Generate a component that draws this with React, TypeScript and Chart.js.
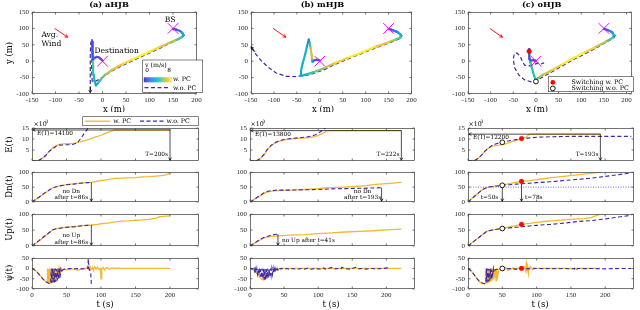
import React, { useEffect, useRef } from 'react';
import { Chart, registerables } from 'chart.js';

Chart.register(...registerables);

/* ================= DATA ================= */
// common markers
const BS: [number, number] = [150, 100];
const DEST: [number, number] = [0, 0];

// ---- (a) aHJB trajectory ----
const aTrajPcX = [150,158,165,170,172,168,155,140,120,100,80,60,40,20,5,-5,-11,-14,-17,-19,-20,-21,-22,-22,-22,-22,-21,-21,-20,-17,-13,-8,-4,0];
const aTrajPcY = [98,96,92,86,79,73,64,55,42,29,16,3,-11,-27,-42,-58,-69,-74,-60,-40,-15,10,30,45,55,60,45,25,5,10,13,12,7,2];
const aTrajPcV = [0.5,1,1.5,2.5,3.5,4.5,5.5,6.5,7.2,7.8,8,7.8,7.2,6.5,5.8,5,4.2,3.5,3.8,4.3,4.8,5.3,5.5,4,2,1,0.8,1,1.2,1,1,1,0.8,0.5];
const aTrajNoX = [150,160,168,174,170,155,140,120,100,80,60,40,20,5,-8,-18,-22,-23,-23,-23,-23,-22,-25,-26,-26,-26,-26];
const aTrajNoY = [100,96,90,80,72,62,52,38,25,12,-1,-15,-30,-44,-56,-64,-60,-30,0,30,55,68,55,20,-20,-60,-92];
// ---- (a) time series ----
const aT_E_pc = [0,5,10,15,20,25,30,35,40,45,50,55,60,65,70,75,80,85,90,95,100,105,110,115,120,200];
const aE_pc = [0,0.05,0.3,1.2,2.6,4.6,5.9,7.0,7.6,7.8,7.9,7.9,8.0,8.2,8.8,9.2,9.6,10.1,10.7,11.2,11.7,12.4,13.0,13.6,14.1,14.1];
const aT_E_no = [0,5,10,15,20,25,30,35,40,45,50,55,60,66,70,75,80,84];
const aE_no = [0,0.05,0.3,1.2,2.5,4.4,5.6,6.7,7.2,7.3,7.4,7.4,7.6,8.4,10.0,12.2,14.4,16.2];
const aT_Dn_pc = [0,10,20,30,35,40,50,60,70,80,86,90,100,110,120,130,140,150,160,170,180,190,195,200];
const aDn_pc = [0,16,32,47,51,54,58,61,63,65,66,68,72,75,79,80,81,82,84,85,87,89,92,96];
const aT_Dn_no = [0,10,20,30,35,40,50,60,70,80,86];
const aDn_no = [0,16,33,48,51,54,58,60,63,65,66];
const aT_Up_pc = [0,10,20,30,35,40,50,60,70,80,86,95,100,110,120,130,140,150,160,170,175,180,185,190,200];
const aUp_pc = [0,16,33,50,54,56,59,61,63,65,66,68,70,72,76,78,79,81,82,84,86,88,92,93,95];
const aT_Up_no = [0,10,20,30,35,40,50,60,70,80,86];
const aUp_no = [0,17,34,51,54,56,59,60,63,65,66];
const aT_Ps_pc = [0,4,8,12,16,20,22,22.5,23.5,24,25,25.5,27,27.5,29,29.5,31,31.5,33,33.5,35,35.5,37,37.5,39,39.5,41,41.5,43,44,47,50,53,55,57,60,63,66,70,74,78,81,83,84,86,88,89,91,93,95,97,99,100,101,103,105,107,110,113,116,120,125,130,200];
const aPs_pc = [0,-8,-20,-35,-52,-64,-68,0,-70,-3,-72,0,-70,-5,-68,0,-65,-2,-60,0,-50,-3,-45,0,-40,-2,-30,0,-10,-5,-3,-8,-2,-6,0,-4,-2,-10,-3,-5,0,8,-8,10,-5,5,-10,8,-3,6,-5,0,-50,0,5,-8,3,4,-5,3,0,2,0,0];
const aT_Ps_no = [0,4,8,12,16,20,24,27,28,28.5,30,30.5,32,32.5,34,34.5,36,36.5,38,38.5,40,40.5,42,43,45,50,55,60,65,70,75,78,81,81.5,82.5,85,86];
const aPs_no = [0,-8,-20,-36,-52,-64,-72,-75,0,-70,0,-72,-2,-68,0,-66,-3,-60,0,-55,0,-45,-5,-20,-5,-2,0,-3,0,-2,0,2,0,48,0,-20,-75];

// ---- (b) mHJB trajectory ----
const bTrajPcX = [150,160,170,177,176,165,150,120,94,60,30,8,-15,-30,-43,-41,-37,-32,-28,-25,-24,-22,-20,-18,-17,-16,-13,-8,-3,0];
const bTrajPcY = [98,94,88,80,72,66,58,43,28,10,-8,-22,-34,-41,-45,-30,-5,20,45,60,66,55,40,20,5,-2,2,4,4,2];
const bTrajPcV = [0.5,1.5,2.5,3.5,4.5,5.5,6.5,7.5,8,7.8,7,6,5,4,3.2,3.4,3.8,4.2,3.5,2,1,3.5,6,7,6,4,1.5,1,1,0.8];
const bTrajNoX = [150,162,172,179,176,160,130,94,60,30,8,-15,-30,-43,-55,-73,-95,-113,-128,-140,-148];
const bTrajNoY = [100,95,88,78,70,60,45,25,6,-12,-27,-38,-43,-46,-47,-46,-36,-18,2,22,40];
// ---- (b) time series ----
const bT_E_pc = [0,5,10,15,20,25,30,35,40,45,50,55,60,70,80,90,95,100,105,110,113,222];
const bE_pc = [0,0.05,0.2,1.0,2.6,4.8,6.6,7.8,8.6,9.1,9.5,9.8,10.0,10.3,10.5,10.8,11.1,11.6,12.3,13.2,13.8,13.8];
const bT_E_no = [0,5,10,15,20,25,30,35,40,45,50,60,70,80,90,95,100,105,110,114];
const bE_no = [0,0.05,0.2,1.1,2.8,5.1,6.9,8.1,8.9,9.4,9.8,10.2,10.5,10.8,11.3,11.8,12.6,13.6,14.9,16.0];
const bT_Dn_pc = [0,5,10,15,20,25,30,40,50,60,80,100,110,130,155,170,184,200,222];
const bDn_pc = [0,7,14,21,28,33,36,38,39,40,42,45,47,49,52,55,59,62,66];
const bT_Dn_no = [0,5,10,15,20,25,30,40,60,80,100,120,140,160,180,193];
const bDn_no = [0,7,15,22,30,35,38,40,40,41,42,44,45,46,47,48];
const bT_Up_pc = [0,10,20,30,41,60,80,100,120,140,160,180,200,222];
const bUp_pc = [0,13,25,30,32,34,36,39,41,44,46,48,51,53];
const bT_Up_no = [0,10,20,30,38,41];
const bUp_no = [0,14,27,33,37,37];
const bT_Ps_pc = [0,3,5,8,10,12,15,18,20,20.5,21,22,25,27,30,33,35,38,40,43,45,60,100,150,222];
const bPs_pc = [0,-3,-8,-18,-25,-33,-45,-53,-56,-25,-55,-52,-42,-36,-28,-20,-15,-9,-6,-2,0,0,0,0,0];
const bT_Ps_no = [0,1,2,3,4,5,6,7,8,9,10,11,12,13,14,15,16,17,18,19,20,21,22,23,24,25,26,27,28,29,30,31,32,33,34,35,36,37,38,39,40,41,42,43,44,45,46,50,55,58,62,65,70,75,80,85,90,95,100,105,108,110,115,120,125,130,133,135,140,145,150,155,160,165,170,175,180,185,190,195,200,205];
const bPs_no = [0,-2,0,-4,-1,-9,0,-14,-1,-21,0,-27,-2,-33,0,-40,-3,-46,0,-52,-2,-55,0,-53,-3,-49,0,-44,-2,-38,0,-33,-1,-28,0,-22,-2,-17,0,-12,-1,-8,0,-5,0,-3,0,-3,0,-5,0,-2,-4,0,-3,2,-4,0,-2,-5,3,-3,0,5,-2,0,-4,6,-1,-3,0,6,-2,0,-3,-1,0,-4,0,-2,3,0];

// ---- (c) oHJB trajectory ----
const cTrajPcX = [150,160,168,172,170,155,130,105,83,55,32,15,5,0,-4,-8,-12,-14,-15,-15,-15,-15,-15,-14,-11,-6,-2,0];
const cTrajPcY = [98,94,88,80,72,60,42,25,10,-12,-30,-42,-51,-57,-45,-25,-5,5,18,28,34,37,25,8,2,3,2,0];
const cTrajPcV = [0.5,1.5,2.5,3.5,4.5,5.5,6.8,7.8,8,7.5,7,6.2,5.5,4.8,4.5,4.3,4.5,5,6,5,2.5,1,0.8,1,1,1,0.8,0.5];
const cTrajNoX = [150,162,170,175,172,155,130,105,83,55,32,15,5,0,-10,-25,-38,-47,-50,-48,-42,-35,-30,-25,-15,-5,5,12,18];
const cTrajNoY = [100,95,88,79,71,58,38,20,5,-17,-35,-48,-56,-62,-63,-57,-42,-20,5,22,25,15,0,-12,-14,-10,-6,-8,-5];
const cSwitchPcXY: [number, number] = [-15, 30];
const cSwitchNoXY: [number, number] = [0, -62];
// ---- (c) time series ----
const cT_E_pc = [0,5,10,15,20,25,30,35,40,45,50,55,60,65,70,75,78,80,85,88,90,193];
const cE_pc = [0,0.05,0.3,1.2,2.8,4.6,5.8,6.7,7.1,7.2,7.4,7.8,8.4,8.9,9.3,9.8,10.2,10.4,10.8,11.8,12.2,12.2];
const cT_E_no = [0,5,10,15,20,25,30,35,40,45,50,55,60,70,78,90,100,120,150,238];
const cE_no = [0,0.05,0.3,1.2,2.8,4.6,5.9,7.0,7.7,8.2,8.5,8.8,9.2,9.7,10.0,10.5,10.8,11.0,11.2,11.2];
const cT_Dn_pc = [0,5,10,15,20,25,30,40,50,60,70,78,90,100,110,122,140,156,175,193];
const cDn_pc = [0,10,20,30,40,46,50,54,57,62,66,69,72,75,78,82,86,90,95,100];
const cT_Dn_no = [0,5,10,15,20,25,30,40,50,60,70,78,90,100,120,140,160,180,200,220,238];
const cDn_no = [0,10,20,30,40,46,50,53,56,58,60,61,63,65,68,72,76,80,86,92,98];
const cT_Up_pc = [0,10,20,28,35,40,50,60,70,78,90,100,110,122,140,160,170,180,193];
const cUp_pc = [0,17,34,47,50,52,56,60,64,68,71,74,77,79,82,85,86,90,100];
const cT_Up_no = [0,10,20,28,35,40,50,60,70,78,90,100,120,140,160,180,200,220,238];
const cUp_no = [0,17,34,47,50,52,55,57,59,61,63,65,68,72,77,80,85,91,97];
const cT_Ps_pc = [0,4,8,12,16,20,24,25,25.5,27,27.5,29,29.5,31,31.5,33,33.5,35,35.5,37,37.5,39,39.5,41,41.5,43,45,48,52,55,58,62,66,70,74,78,82,84,85,86,87,88,89,91,94,96,100,110,193];
const cPs_pc = [0,-10,-25,-45,-62,-72,-76,-75,0,-70,-5,-72,0,-65,-3,-60,0,-55,-2,-50,0,-45,-3,-60,0,-40,-5,0,-8,5,-10,-3,2,-5,3,0,10,-10,25,-5,8,-25,3,10,-5,2,0,0,0];
const cT_Ps_no = [0,4,8,12,16,20,24,26,27,27.5,29,29.5,31,31.5,33,33.5,35,35.5,37,38,40,45,50,55,60,70,80,90,100,110,120,130,140,150,155,157,160,170,180,200,220,238];
const cPs_no = [0,-10,-26,-45,-60,-70,-74,-72,0,-68,0,-65,-3,-60,0,-55,-5,-45,0,-20,-5,-3,0,-2,0,-3,0,-2,0,-1,0,-2,0,-3,0,-10,0,-1,0,-2,0,0];
// switching instants (c)
const cSwT_no = 50, cSwT_pc = 78;
const cSwE = [8.5, 10.2], cSwDn = [56, 69], cSwUp = [55, 68];
const cDnThreshold = 50;

// axis tick values
const TOP_XT = [-150,-100,-50,0,50,100,150,200];
const TOP_YT = [-100,-50,0,50,100,150];
const LOW_XT = [0,50,100,150,200];
const E_YT = [5,10,15];
const P_YT = [0,50,100];
const PS_YT = [-100,-50,0,50];

/* ================= STYLE ================= */
const SERIF = '"DejaVu Serif", serif';
const TICKF = '"Liberation Serif", "DejaVu Serif", serif';
const YEL = 'rgb(246,183,50)';
const NAVY = 'rgb(60,40,168)';
const MAG = 'rgb(255,0,255)';
const AX = '#262626';
const DASH = [4, 2.5];

const PARULA: number[][] = [[62,38,168],[70,80,240],[40,125,235],[18,160,215],[20,185,185],[80,200,135],[170,200,80],[245,190,60],[249,251,20]];
function parula(t: number): string {
  const u = Math.max(0, Math.min(1, t)) * (PARULA.length - 1);
  const i = Math.min(PARULA.length - 2, Math.floor(u));
  const f = u - i;
  const c = PARULA[i].map((v, k) => Math.round(v + (PARULA[i + 1][k] - v) * f));
  return `rgb(${c[0]},${c[1]},${c[2]})`;
}

/* ================= GEOMETRY ================= */
const ML = 32, MR = 6;
const TOPX = [[32, 199], [251, 414], [468, 634]];
const LOWX = [[32, 199], [250, 415], [468, 634]];
const ROWS = [[12, 94], [128, 161], [171, 202], [213, 246], [257, 289]];
const MT = [12, 14, 6, 6, 6];
const MBOT = [18, 8, 8, 8, 21];
const TITLE_CX = [109, 322.5, 541.7];
const XLAB_CX = [114, 323, 537];
const TLAB_CX = [105, 331, 540];

/* ================= HELPERS ================= */
type H = { ctx: CanvasRenderingContext2D; X: (v: number) => number; Y: (v: number) => number; px: (x: number) => number; py: (y: number) => number };
type Spec = { L: number; R: number; T: number; B: number; mt: number; mb: number; xmin: number; xmax: number; xticks: number[]; xlabels: boolean; ymin: number; ymax: number; yticks: number[]; datasets: any[]; draw?: (h: H) => void };

function txt(ctx: CanvasRenderingContext2D, s: string, x: number, y: number, size: number, align: CanvasTextAlign = 'left', bold = false, color = '#000') {
  ctx.save();
  ctx.font = `${bold ? 'bold ' : ''}${size}px ${SERIF}`;
  ctx.fillStyle = color; ctx.textAlign = align; ctx.textBaseline = 'middle';
  ctx.fillText(s, x, y);
  ctx.restore();
}
function vtxt(ctx: CanvasRenderingContext2D, s: string, x: number, y: number, size: number) {
  ctx.save(); ctx.translate(x, y); ctx.rotate(-Math.PI / 2);
  txt(ctx, s, 0, 0, size, 'center');
  ctx.restore();
}
function arrow(ctx: CanvasRenderingContext2D, x1: number, y1: number, x2: number, y2: number, color = '#000', lw = 0.7, hs = 3) {
  const a = Math.atan2(y2 - y1, x2 - x1);
  ctx.save(); ctx.strokeStyle = color; ctx.lineWidth = lw;
  ctx.beginPath(); ctx.moveTo(x1, y1); ctx.lineTo(x2, y2);
  ctx.moveTo(x2 - hs * Math.cos(a - 0.5), y2 - hs * Math.sin(a - 0.5));
  ctx.lineTo(x2, y2);
  ctx.lineTo(x2 - hs * Math.cos(a + 0.5), y2 - hs * Math.sin(a + 0.5));
  ctx.stroke(); ctx.restore();
}
function seg(ctx: CanvasRenderingContext2D, x1: number, y1: number, x2: number, y2: number, color: string, lw: number, dash: number[] = []) {
  ctx.save(); ctx.strokeStyle = color; ctx.lineWidth = lw; ctx.setLineDash(dash);
  ctx.beginPath(); ctx.moveTo(x1, y1); ctx.lineTo(x2, y2); ctx.stroke(); ctx.restore();
}
function box(ctx: CanvasRenderingContext2D, x: number, y: number, w: number, h: number) {
  ctx.save(); ctx.fillStyle = '#fff'; ctx.fillRect(x, y, w, h);
  ctx.strokeStyle = '#333'; ctx.lineWidth = 0.6; ctx.strokeRect(x, y, w, h); ctx.restore();
}
function dot(ctx: CanvasRenderingContext2D, x: number, y: number, open: boolean) {
  ctx.save(); ctx.beginPath(); ctx.arc(x, y, 2.4, 0, Math.PI * 2);
  if (open) { ctx.fillStyle = '#fff'; ctx.fill(); ctx.strokeStyle = '#000'; ctx.lineWidth = 0.9; ctx.stroke(); }
  else { ctx.fillStyle = '#ff0000'; ctx.fill(); }
  ctx.restore();
}

const pts = (xs: number[], ys: number[]) => xs.map((x, i) => ({ x, y: ys[i] }));
const solid = (xs: number[], ys: number[]) => ({ data: pts(xs, ys), showLine: true, borderColor: YEL, borderWidth: 1.3, pointRadius: 0, tension: 0 });
const dashed = (xs: number[], ys: number[], w = 1.1) => ({ data: pts(xs, ys), showLine: true, borderColor: NAVY, borderWidth: w, borderDash: DASH, pointRadius: 0, tension: 0 });
const traj = (xs: number[], ys: number[], vs: number[]) => ({
  type: 'line', data: pts(xs, ys), showLine: true, borderWidth: 2.2, pointRadius: 0, tension: 0,
  borderColor: parula(0.5), borderCapStyle: 'round', borderJoinStyle: 'round',
  segment: { borderColor: (c: any) => parula((vs[c.p0DataIndex] + vs[c.p1DataIndex]) / 16) },
});
const crosses = (list: [number, number][]) => ({ data: list.map(p => ({ x: p[0], y: p[1] })), showLine: false, pointStyle: 'crossRot', pointRadius: 7.5, pointBorderColor: MAG, pointBorderWidth: 1 });
const marker = (x: number, y: number, open: boolean) => ({ data: [{ x, y }], showLine: false, pointStyle: 'circle', pointRadius: 2.4, pointBackgroundColor: open ? '#fff' : '#ff0000', pointBorderColor: open ? '#000' : '#ff0000', pointBorderWidth: open ? 0.9 : 0.3 });

function makeConfig(s: Spec, cl: number, ct: number) {
  const tickFont = { family: TICKF, size: 7 };
  const fmt = (v: any) => { const n = Number(v); return n < 0 ? '-' + Math.abs(n) : String(n); };
  return {
    type: 'scatter',
    data: { datasets: s.datasets },
    options: {
      responsive: false, maintainAspectRatio: false, animation: false, events: [],
      layout: { padding: { left: 0, right: MR, top: s.mt, bottom: 0 } },
      plugins: { legend: { display: false }, tooltip: { enabled: false } },
      scales: {
        x: {
          type: 'linear', min: s.xmin, max: s.xmax,
          afterBuildTicks: (sc: any) => { sc.ticks = s.xticks.map(v => ({ value: v })); },
          afterFit: (sc: any) => { sc.height = s.mb; },
          grid: { display: false, drawTicks: false }, border: { display: false },
          ticks: { display: s.xlabels, padding: 2, font: tickFont, color: AX, maxRotation: 0, minRotation: 0, autoSkip: false, callback: fmt },
        },
        y: {
          type: 'linear', min: s.ymin, max: s.ymax,
          afterBuildTicks: (sc: any) => { sc.ticks = s.yticks.map(v => ({ value: v })); },
          afterFit: (sc: any) => { sc.width = ML; },
          grid: { display: false, drawTicks: false }, border: { display: false },
          ticks: { padding: 3, font: tickFont, color: AX, autoSkip: false, callback: fmt },
        },
      },
    },
    plugins: [{
      id: 'deco',
      afterDatasetsDraw(chart: any) {
        const ctx: CanvasRenderingContext2D = chart.ctx;
        const a = chart.chartArea, xs = chart.scales.x, ys = chart.scales.y;
        const l = Math.round(a.left) + 0.5, r = Math.round(a.right) - 0.5, t = Math.round(a.top) + 0.5, b = Math.round(a.bottom) - 0.5;
        ctx.save();
        ctx.strokeStyle = '#3a3a3a'; ctx.lineWidth = 0.7;
        ctx.strokeRect(l, t, r - l, b - t);
        ctx.beginPath();
        for (const v of s.xticks) { const p = xs.getPixelForValue(v); ctx.moveTo(p, b); ctx.lineTo(p, b - 2); ctx.moveTo(p, t); ctx.lineTo(p, t + 2); }
        for (const v of s.yticks) { const p = ys.getPixelForValue(v); ctx.moveTo(l, p); ctx.lineTo(l + 2, p); ctx.moveTo(r, p); ctx.lineTo(r - 2, p); }
        ctx.stroke(); ctx.restore();
        if (s.draw) s.draw({ ctx, X: (v) => xs.getPixelForValue(v), Y: (v) => ys.getPixelForValue(v), px: (x) => x - cl, py: (y) => y - ct });
      },
    }],
  };
}

function mk(col: number, row: number, datasets: any[], draw?: (h: H) => void, xmaxTop = 200): Spec {
  const [L, R] = row === 0 ? TOPX[col] : LOWX[col];
  const [T, B] = ROWS[row];
  const yr = [[-100, 150, TOP_YT], [0, 15, E_YT], [0, 100, P_YT], [0, 100, P_YT], [-100, 50, PS_YT]][row] as [number, number, number[]];
  return {
    L, R, T, B, mt: MT[row], mb: MBOT[row],
    xmin: row === 0 ? -150 : 0, xmax: row === 0 ? xmaxTop : 242,
    xticks: row === 0 ? TOP_XT : LOW_XT, xlabels: row === 0 || row === 4,
    ymin: yr[0], ymax: yr[1], yticks: yr[2], datasets, draw,
  };
}

/* ---- shared decorations ---- */
function topCommon(h: H, col: number, title: string) {
  arrow(h.ctx, h.X(-102), h.Y(100), h.X(-74), h.Y(73), '#ff0000', 0.9, 3.2);
  txt(h.ctx, title, h.px(TITLE_CX[col]), h.py(5), 8.2, 'center', true);
  txt(h.ctx, 'x (m)', h.px(XLAB_CX[col]), h.py(109.5), 8.5, 'center');
}
function eCommon(h: H, T: number, ET: number, label: string, tl: string, x10: number) {
  const { ctx, X, Y } = h;
  arrow(ctx, X(T), Y(ET), X(0) + 0.8, Y(ET));
  arrow(ctx, X(T), Y(ET), X(T), Y(0) - 0.8);
  txt(ctx, label, X(0) + 5, Y(ET) + 3.6, 5.8);
  txt(ctx, tl, X(T) - 2, Y(2.8), 5.8, 'right');
  txt(ctx, '\u00d710', h.px(x10), h.py(124.3), 6.3);
  txt(ctx, '3', h.px(x10) + 12, h.py(122.3), 4.5);
}
function stopNote(h: H, t: number, v: number, l1: string, l2: string, y1: number, y2: number, dx: number) {
  const { ctx, X, Y } = h;
  arrow(ctx, X(t), Y(v), X(t), Y(0) - 0.8);
  txt(ctx, l1, X(t) + dx, Y(y1), 5.8, 'center');
  txt(ctx, l2, X(t) + dx, Y(y2), 5.8, 'center');
}

/* ================= PANELS ================= */
const SPECS: Spec[] = [
  // ----- (a) -----
  mk(0, 0, [crosses([BS, DEST]), traj(aTrajPcX, aTrajPcY, aTrajPcV), dashed(aTrajNoX, aTrajNoY, 1.2)], (h) => {
    const { ctx, X, Y, px, py } = h;
    topCommon(h, 0, '(a) aHJB');
    arrow(ctx, X(-26), Y(-78), X(-26), Y(-96), '#000', 0.8, 3);
    txt(ctx, 'BS', X(144), Y(126), 7.6, 'center');
    txt(ctx, 'Destination', X(-17), Y(31), 7.6);
    txt(ctx, 'Avg.', X(-130), Y(79), 7.6);
    txt(ctx, 'Wind', X(-130), Y(51), 7.6);
    vtxt(ctx, 'y (m)', px(9.5), py(53), 8.5);
    box(ctx, px(142.7), py(60), 60, 32.5);
    txt(ctx, 'v (m/s)', px(145), py(65), 6.3);
    txt(ctx, '0', px(145.2), py(70.9), 5.8);
    txt(ctx, '8', px(167.3), py(70.9), 5.8);
    for (let i = 0; i < 28; i++) { ctx.fillStyle = parula(i / 27); ctx.fillRect(px(143.8 + i), py(77.3), 1.05, 5); }
    txt(ctx, 'w. PC', px(173), py(79.8), 6.3);
    seg(ctx, px(144.5), py(87.7), px(170.5), py(87.7), NAVY, 1.2, DASH);
    txt(ctx, 'w.o. PC', px(173), py(88.5), 6.3);
  }),
  mk(0, 1, [dashed(aT_E_no, aE_no), solid(aT_E_pc, aE_pc)], (h) => {
    const { ctx, px, py } = h;
    eCommon(h, 200, 14.1, 'E(T)=14100', 'T=200s', 33.5);
    box(ctx, px(82.7), py(116.7), 115.6, 9);
    seg(ctx, px(85), py(121.2), px(110), py(121.2), YEL, 1.3);
    txt(ctx, 'w. PC', px(113.3), py(121.3), 6.3);
    seg(ctx, px(140), py(121.2), px(164), py(121.2), NAVY, 1.2, DASH);
    txt(ctx, 'w.o. PC', px(166.5), py(121.3), 6.3);
    vtxt(ctx, 'E(t)', px(10), py(144.5), 8.5);
  }),
  mk(0, 2, [dashed(aT_Dn_no, aDn_no), solid(aT_Dn_pc, aDn_pc)], (h) => {
    stopNote(h, 86, 66, 'no Dn', 'after t=86s', 34, 14, -20);
    vtxt(h.ctx, 'Dn(t)', h.px(10), h.py(186.5), 8.5);
  }),
  mk(0, 3, [dashed(aT_Up_no, aUp_no), solid(aT_Up_pc, aUp_pc)], (h) => {
    stopNote(h, 86, 66, 'no Up', 'after t=86s', 32, 12, -20);
    vtxt(h.ctx, 'Up(t)', h.px(10), h.py(229.5), 8.5);
  }),
  mk(0, 4, [dashed(aT_Ps_no, aPs_no), solid(aT_Ps_pc, aPs_pc)], (h) => {
    vtxt(h.ctx, '\u03c8\u0307(t)', h.px(10), h.py(273), 8.5);
    txt(h.ctx, 't (s)', h.px(TLAB_CX[0]), h.py(305), 8.5, 'center');
  }),
  // ----- (b) -----
  mk(1, 0, [crosses([BS, DEST]), traj(bTrajPcX, bTrajPcY, bTrajPcV), dashed(bTrajNoX, bTrajNoY, 1.2)], (h) => {
    topCommon(h, 1, '(b) mHJB');
    arrow(h.ctx, h.X(-141), h.Y(28), h.X(-150), h.Y(44), '#000', 0.8, 3);
  }),
  mk(1, 1, [dashed(bT_E_no, bE_no), solid(bT_E_pc, bE_pc)], (h) => {
    eCommon(h, 222, 13.8, 'E(T)=13800', 'T=222s', 250.5);
  }),
  mk(1, 2, [dashed(bT_Dn_no, bDn_no), solid(bT_Dn_pc, bDn_pc)], (h) => {
    stopNote(h, 193, 48, 'no Dn', 'after t=193s', 34, 14, -19);
  }),
  mk(1, 3, [dashed(bT_Up_no, bUp_no), solid(bT_Up_pc, bUp_pc)], (h) => {
    const { ctx, X, Y } = h;
    arrow(ctx, X(41), Y(37), X(41), Y(0) - 0.8);
    txt(ctx, 'no Up after t=41s', X(41) + 4, Y(17.6), 5.8);
  }),
  mk(1, 4, [dashed(bT_Ps_no, bPs_no), solid(bT_Ps_pc, bPs_pc)], (h) => {
    txt(h.ctx, 't (s)', h.px(TLAB_CX[1]), h.py(305), 8.5, 'center');
  }),
  // ----- (c) -----
  mk(2, 0, [crosses([BS, DEST]), marker(cSwitchPcXY[0], cSwitchPcXY[1], false), marker(cSwitchNoXY[0], cSwitchNoXY[1], true), traj(cTrajPcX, cTrajPcY, cTrajPcV), dashed(cTrajNoX, cTrajNoY, 1.2)], (h) => {
    const { ctx, px, py } = h;
    topCommon(h, 2, '(c) oHJB');
    box(ctx, px(548.3), py(76.7), 85, 15);
    dot(ctx, px(552.8), py(82.4), false);
    txt(ctx, 'Switching w. PC', px(571.5), py(82.6), 6.3);
    dot(ctx, px(552.8), py(88.4), true);
    txt(ctx, 'Switching w.o. PC', px(571.5), py(88.6), 6.3);
  }, 211),
  mk(2, 1, [marker(cSwT_no, cSwE[0], true), marker(cSwT_pc, cSwE[1], false), dashed(cT_E_no, cE_no), solid(cT_E_pc, cE_pc)], (h) => {
    eCommon(h, 193, 12.2, 'E(T)=12200', 'T=193s', 468.5);
  }),
  mk(2, 2, [marker(cSwT_no, cSwDn[0], true), marker(cSwT_pc, cSwDn[1], false), dashed(cT_Dn_no, cDn_no),
    { data: [{ x: 0, y: cDnThreshold }, { x: 242, y: cDnThreshold }], showLine: true, borderColor: 'rgb(90,90,235)', borderWidth: 0.9, borderDash: [1, 1.5], pointRadius: 0 },
    solid(cT_Dn_pc, cDn_pc)], (h) => {
    const { ctx, X, Y } = h;
    arrow(ctx, X(cSwT_no), Y(cSwDn[0]) + 2.5, X(cSwT_no), Y(0) - 0.8);
    arrow(ctx, X(cSwT_pc), Y(cSwDn[1]) + 2.5, X(cSwT_pc), Y(0) - 0.8);
    txt(ctx, 't=50s', X(cSwT_no) - 4, Y(16), 5.8, 'right');
    txt(ctx, 't=78s', X(cSwT_pc) + 3.5, Y(16), 5.8);
  }),
  mk(2, 3, [marker(cSwT_no, cSwUp[0], true), marker(cSwT_pc, cSwUp[1], false), dashed(cT_Up_no, cUp_no), solid(cT_Up_pc, cUp_pc)]),
  mk(2, 4, [marker(cSwT_no, 0, true), marker(cSwT_pc, 0, false), dashed(cT_Ps_no, cPs_no), solid(cT_Ps_pc, cPs_pc)], (h) => {
    txt(h.ctx, 't (s)', h.px(TLAB_CX[2]), h.py(305), 8.5, 'center');
  }),
];

/* ================= COMPONENTS ================= */
function Panel({ s }: { s: Spec }) {
  const ref = useRef<HTMLCanvasElement | null>(null);
  const cl = s.L - ML, ct = s.T - s.mt;
  const w = s.R - s.L + ML + MR, hgt = s.B - s.T + s.mt + s.mb;
  useEffect(() => {
    const chart = new Chart(ref.current as HTMLCanvasElement, makeConfig(s, cl, ct) as any);
    return () => chart.destroy();
  }, []);
  return <canvas ref={ref} width={w} height={hgt} style={{ position: 'absolute', left: cl, top: ct, width: w, height: hgt }} />;
}

export default function App() {
  return (
    <div style={{ position: 'absolute', left: 0, top: 0, width: 640, height: 310, overflow: 'hidden', background: '#fff' }}>
      {SPECS.map((s, i) => <Panel key={i} s={s} />)}
    </div>
  );
}
